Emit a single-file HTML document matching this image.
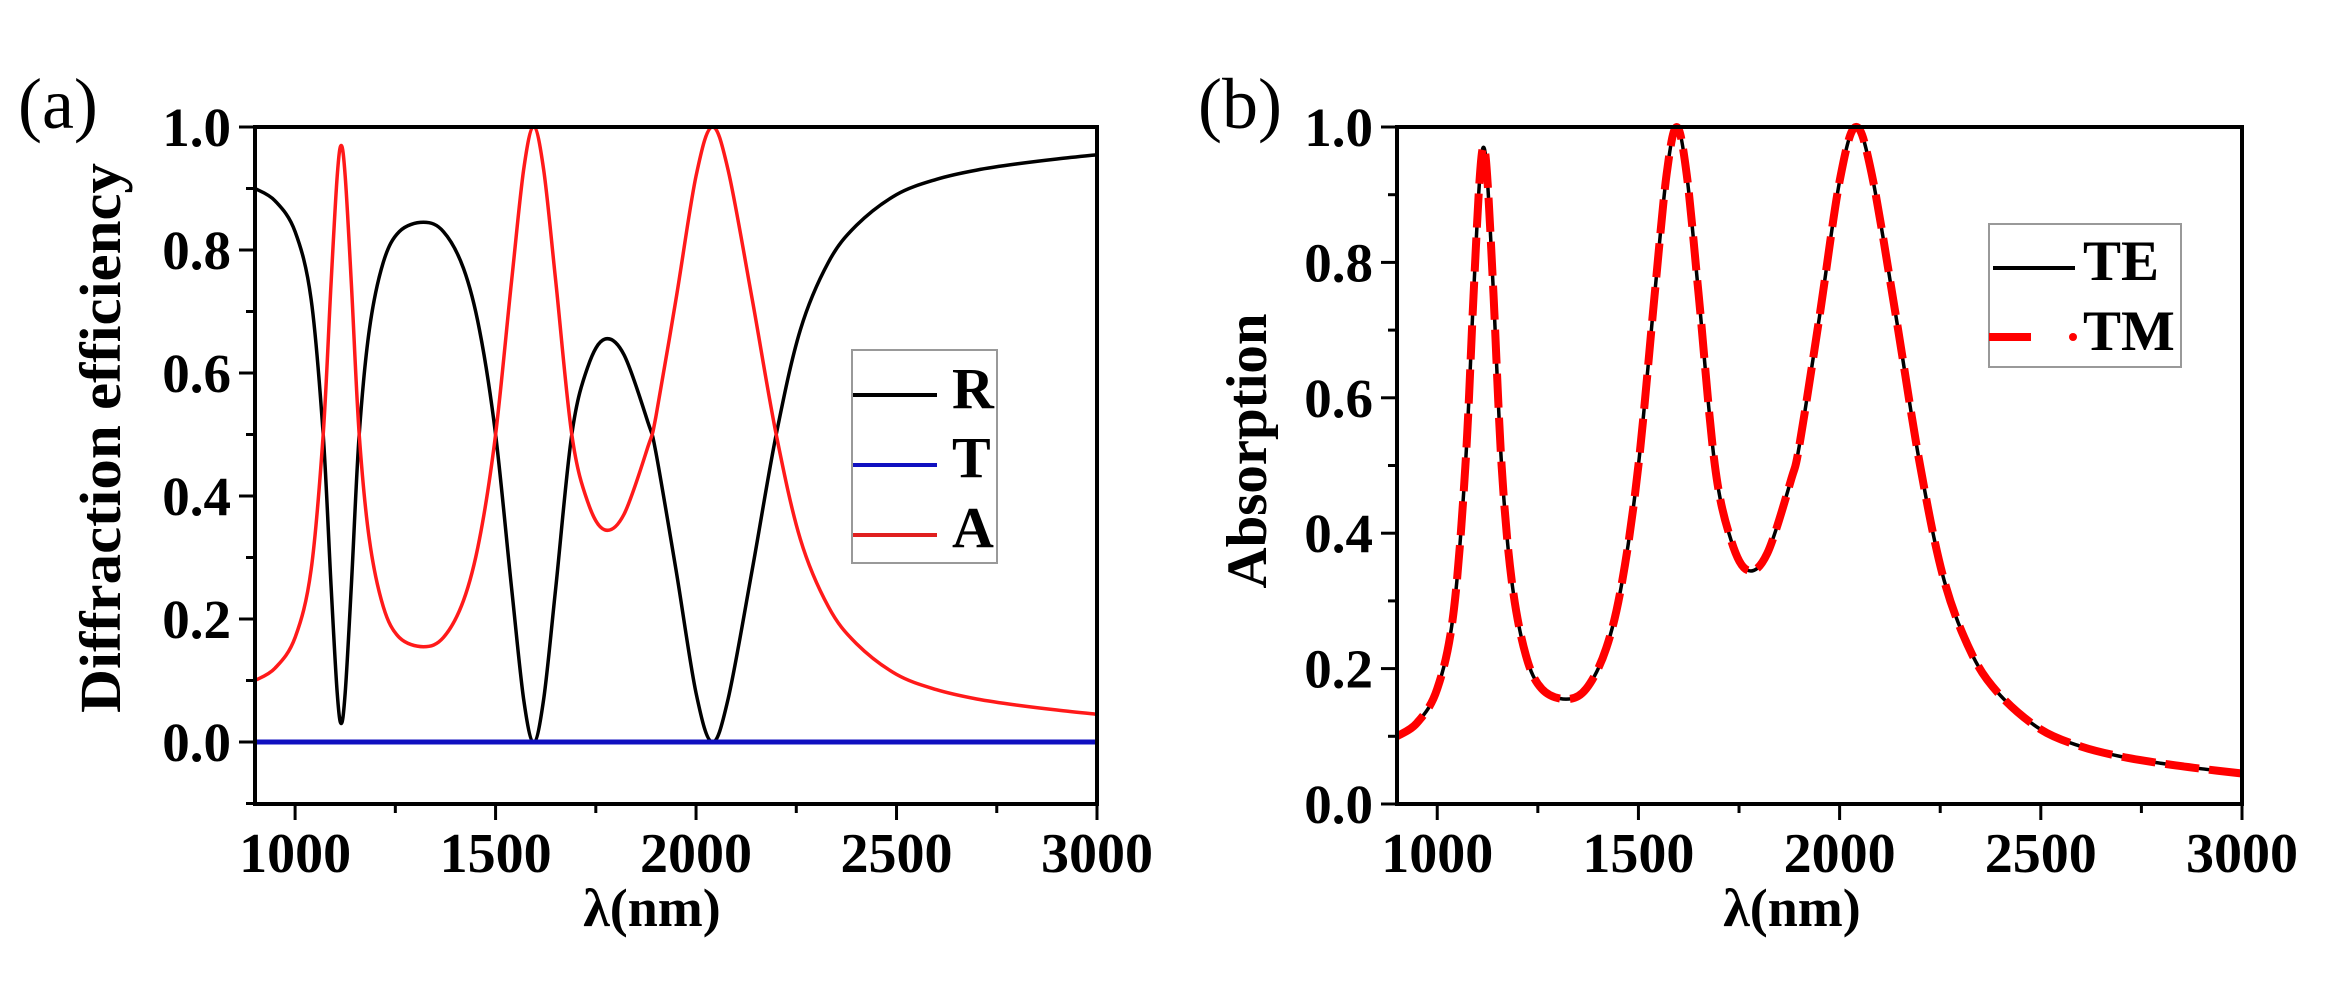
<!DOCTYPE html>
<html><head><meta charset="utf-8">
<style>
html,body{margin:0;padding:0;background:#fff;overflow:hidden;}
svg{display:block;font-family:"Liberation Serif",serif;}
</style></head>
<body>
<svg id="s" width="2339" height="1008" viewBox="0 0 2339 1008" xmlns="http://www.w3.org/2000/svg">
<rect width="2339" height="1008" fill="#fff"/>
<g id="g"></g>
<text x="18" y="128" font-size="72">(a)</text>
<text x="1198" y="128" font-size="72">(b)</text>
<text transform="translate(120,438) rotate(-90)" text-anchor="middle" font-size="58" font-weight="bold" textLength="550" lengthAdjust="spacingAndGlyphs">Diffraction efficiency</text>
<text transform="translate(1266,451) rotate(-90)" text-anchor="middle" font-size="57" font-weight="bold" textLength="275" lengthAdjust="spacingAndGlyphs">Absorption</text>
<text x="652" y="926" text-anchor="middle" font-size="54" font-weight="bold">λ(nm)</text>
<text x="1792" y="926" text-anchor="middle" font-size="54" font-weight="bold">λ(nm)</text>
<rect x="852" y="350" width="145" height="213" fill="#fff" stroke="#999" stroke-width="2"/>
<line x1="853" y1="395" x2="937" y2="395" stroke="#000" stroke-width="4"/>
<line x1="853" y1="465" x2="937" y2="465" stroke="#1010c0" stroke-width="4"/>
<line x1="853" y1="535" x2="937" y2="535" stroke="#e02020" stroke-width="4"/>
<text x="952" y="408" font-size="58" font-weight="bold">R</text>
<text x="952" y="477" font-size="58" font-weight="bold">T</text>
<text x="952" y="547" font-size="58" font-weight="bold">A</text>
<rect x="1989" y="224" width="192" height="143" fill="#fff" stroke="#999" stroke-width="2"/>
<line x1="1993" y1="268" x2="2075" y2="268" stroke="#000" stroke-width="4"/>
<line x1="1989" y1="337" x2="2031" y2="337" stroke="#ff0000" stroke-width="8"/>
<circle cx="2073" cy="337" r="4" fill="#ff0000"/>
<text x="2083" y="280" font-size="57" font-weight="bold">TE</text>
<text x="2083" y="350" font-size="57" font-weight="bold">TM</text>
</svg>
<script>
var pts=[[900,0.10],[950,0.12],[1000,0.17],[1040,0.28],[1070,0.5],[1090,0.75],[1105,0.92],[1115,0.97],[1125,0.92],[1140,0.75],[1160,0.5],[1185,0.33],[1220,0.22],[1260,0.17],[1320,0.155],[1370,0.17],[1420,0.23],[1460,0.33],[1500,0.5],[1540,0.75],[1570,0.93],[1595,1.0],[1620,0.93],[1650,0.75],[1690,0.5],[1730,0.39],[1772,0.345],[1820,0.37],[1880,0.48],[1900,0.53],[1950,0.72],[2000,0.92],[2040,1.0],[2080,0.93],[2140,0.72],[2200,0.5],[2260,0.33],[2330,0.22],[2400,0.16],[2500,0.11],[2600,0.085],[2700,0.07],[2800,0.06],[2900,0.052],[3000,0.045]];
function path(fx,fy,inv){
  var P=pts.map(function(p){return [fx(p[0]),fy(inv?1-p[1]:p[1])];});
  var d="M"+P[0][0].toFixed(1)+","+P[0][1].toFixed(1);
  for(var i=0;i<P.length-1;i++){
    var p0=P[Math.max(0,i-1)],p1=P[i],p2=P[i+1],p3=P[Math.min(P.length-1,i+2)];
    var c1=[p1[0]+(p2[0]-p0[0])/6,p1[1]+(p2[1]-p0[1])/6];
    var c2=[p2[0]-(p3[0]-p1[0])/6,p2[1]-(p3[1]-p1[1])/6];
    d+=" C"+c1[0].toFixed(1)+","+c1[1].toFixed(1)+" "+c2[0].toFixed(1)+","+c2[1].toFixed(1)+" "+p2[0].toFixed(1)+","+p2[1].toFixed(1);
  }
  return d;
}
var g=document.getElementById("g"),h="";
function axes(L,R,T,B,y0,ppu,kmin){
  var fx=function(x){return L+(x-900)*(R-L)/2100;};
  var s="";
  for(var v=1000;v<=3000;v+=250){
    var X=fx(v),maj=(v%500==0);
    s+='<line x1="'+X+'" y1="'+B+'" x2="'+X+'" y2="'+(B+(maj?16:9))+'" stroke="#000" stroke-width="3"/>';
    if(maj)s+='<text x="'+X+'" y="872" text-anchor="middle" font-size="56" font-weight="bold">'+v+'</text>';
  }
  for(var k=kmin;k<=10;k++){
    var Y=y0-k/10*ppu,maj=(k>=0&&k%2==0);
    s+='<line x1="'+(L-(maj?16:9))+'" y1="'+Y+'" x2="'+L+'" y2="'+Y+'" stroke="#000" stroke-width="3"/>';
    if(maj)s+='<text x="'+(L-24)+'" y="'+(Y+19)+'" text-anchor="end" font-size="55" font-weight="bold">'+(k/10).toFixed(1)+'</text>';
  }
  return {s:s,fx:fx,fy:function(v){return y0-v*ppu;}};
}
var a=axes(255,1097,127,804,742,615,-1);
h+=a.s;
h+='<path d="'+path(a.fx,a.fy,true)+'" fill="none" stroke="#000" stroke-width="3.5"/>';
h+='<path d="'+path(a.fx,a.fy,false)+'" fill="none" stroke="#ff1a1a" stroke-width="3.5"/>';
h+='<line x1="255" y1="742" x2="1097" y2="742" stroke="#1010c0" stroke-width="5"/>';
h+='<rect x="255" y="127" width="842" height="677" fill="none" stroke="#000" stroke-width="4"/>';
var b=axes(1397,2242,127,804,804,677,0);
h+=b.s;
h+='<path d="'+path(b.fx,b.fy,false)+'" fill="none" stroke="#000" stroke-width="3.5"/>';
h+='<path d="'+path(b.fx,b.fy,false)+'" fill="none" stroke="#ff0000" stroke-width="8" stroke-dasharray="34,10"/>';
h+='<rect x="1397" y="127" width="845" height="677" fill="none" stroke="#000" stroke-width="4"/>';
g.innerHTML=h;
</script>
</body></html>
